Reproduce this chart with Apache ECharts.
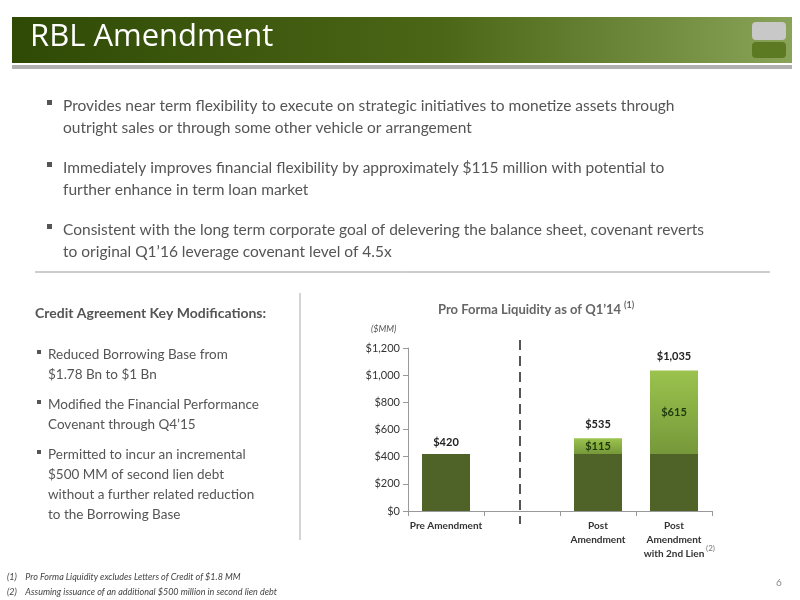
<!DOCTYPE html>
<html><head><meta charset="utf-8">
<script src="https://cdn.jsdelivr.net/npm/echarts@6/dist/echarts.min.js"></script>
<style>html,body{margin:0;padding:0;background:#fff}#c{width:800px;height:600px}</style>
</head><body><div id="c"></div>
<script>
const categories = ['Pre Amendment', '', 'Post\nAmendment', 'Post\nAmendment\nwith 2nd Lien'];
const baseValues = [420, null, 420, 420];
const addValues = [null, null, 115, 615];
const addLabels = ['', '', '$115', '$615'];
const totalLabels = ['$420', '', '$535', '$1,035'];
const yTicks = [0, 200, 400, 600, 800, 1000, 1200];

const F = 'Lato';
const chart = echarts.init(document.getElementById('c'));
const bullets = [
  ['Provides near term flexibility to execute on strategic initiatives to monetize assets through', 'outright sales or through some other vehicle or arrangement', 95],
  ['Immediately improves financial flexibility by approximately $115 million with potential to', 'further enhance in term loan market', 157],
  ['Consistent with the long term corporate goal of delevering the balance sheet, covenant reverts', 'to original Q1’16 leverage covenant level of 4.5x', 219]
];
const left = [
  ['Reduced Borrowing Base from', '$1.78 Bn to $1 Bn', 345],
  ['Modified the Financial Performance', 'Covenant through Q4’15', 395],
  ['Permitted to incur an incremental', '$500 MM of second lien debt', 445],
];
const g = [
  {type:'rect', shape:{x:12,y:17,width:780,height:46}, style:{fill:new echarts.graphic.LinearGradient(0,0,1,0,[{offset:0,color:'#2f4a05'},{offset:0.55,color:'#4b6616'},{offset:1,color:'#89a358'}])}},
  {type:'rect', shape:{x:12,y:65,width:780,height:4}, style:{fill:'#b0b0b0'}},
  {type:'text', x:30, y:22, style:{text:'RBL Amendment', fill:'#fff', font:'31px "Liberation Sans Narrow", "Open Sans"'}},
  {type:'rect', shape:{x:752,y:22,width:34,height:18,r:4}, style:{fill:'#c8c8c8'}},
  {type:'rect', shape:{x:752,y:42,width:34,height:16,r:4}, style:{fill:'#5c7a22'}},
  {type:'line', shape:{x1:35,y1:272,x2:770,y2:272}, style:{stroke:'#999',lineWidth:1}},
  {type:'line', shape:{x1:300,y1:293,x2:300,y2:540}, style:{stroke:'#aaa',lineWidth:1}},
  {type:'text', x:35, y:306, style:{text:'Credit Agreement Key Modifications:', fill:'#555', font:'bold 14px '+F}},
  {type:'text', x:438, y:303, style:{text:'Pro Forma Liquidity as of Q1’14', fill:'#666', font:'bold 13px '+F}},
  {type:'text', x:624, y:301, style:{text:'(1)', fill:'#666', font:'bold 9px '+F}},
  {type:'text', x:371, y:325, style:{text:'($MM)', fill:'#555', font:'italic 9px '+F}},
  {type:'text', x:706, y:544, style:{text:'(2)', fill:'#777', font:'8px '+F}},
  {type:'line', shape:{x1:520,y1:340,x2:520,y2:524}, style:{stroke:'#555',lineWidth:2,lineDash:[10,6]}},
  {type:'text', x:7, y:573, style:{text:'(1)    Pro Forma Liquidity excludes Letters of Credit of $1.8 MM', fill:'#444', font:'italic 9px '+F}},
  {type:'text', x:7, y:588, style:{text:'(2)    Assuming issuance of an additional $500 million in second lien debt', fill:'#444', font:'italic 9px '+F}},
  {type:'text', x:776, y:578, style:{text:'6', fill:'#888', font:'10px '+F}}
];
bullets.forEach(b=>{
  g.push({type:'rect', shape:{x:47,y:b[2]+5,width:5,height:5}, style:{fill:'#555'}});
  g.push({type:'text', x:63, y:b[2], style:{text:b[0]+'\n'+b[1], fill:'#555', font:'15.5px '+F, lineHeight:22}});
});
left.forEach((b,i)=>{
  g.push({type:'rect', shape:{x:37,y:b[2]+5,width:4,height:4}, style:{fill:'#555'}});
  g.push({type:'text', x:48, y:b[2], style:{text:b[0]+'\n'+b[1]+(i==2?'\nwithout a further related reduction\nto the Borrowing Base':''), fill:'#555', font:'13.5px '+F, lineHeight:20}});
});
chart.setOption({
  animation:false,
  graphic:g,
  grid:{left:408, right:88, top:348, bottom:89},
  xAxis:{type:'category', data:categories, axisLine:{lineStyle:{color:'#999'}}, axisTick:{show:true,lineStyle:{color:'#999'}},
    axisLabel:{interval:0, color:'#333', fontFamily:F, fontSize:10, fontWeight:'bold', lineHeight:14}},
  yAxis:{type:'value', min:0, max:1200, interval:200, axisLine:{show:true,lineStyle:{color:'#999'}}, axisTick:{show:true,lineStyle:{color:'#999'}}, splitLine:{show:false},
    axisLabel:{color:'#333', fontFamily:F, fontSize:11, formatter:v=>'$'+v.toLocaleString('en-US')}},
  series:[
    {type:'bar', stack:'s', data:baseValues, barWidth:48, itemStyle:{color:'#4f6228'},
     label:{show:true, position:'top', distance:6, formatter:p=>p.dataIndex===0?totalLabels[0]:'', color:'#222', fontFamily:F, fontWeight:'bold', fontSize:11}},
    {type:'bar', stack:'s', data:addValues, barWidth:48,
     itemStyle:{color:new echarts.graphic.LinearGradient(0,0,0,1,[{offset:0,color:'#9bc34e'},{offset:1,color:'#76983a'}])},
     label:{show:true, position:'inside', formatter:p=>addLabels[p.dataIndex], color:'#1e3a0a', fontFamily:F, fontWeight:'bold', fontSize:11}},
    {type:'bar', stack:'s', data:addValues.map(v=>v==null?null:0), barWidth:48,
     label:{show:true, position:'top', distance:8, formatter:p=>totalLabels[p.dataIndex], color:'#222', fontFamily:F, fontWeight:'bold', fontSize:11}}
  ]
});
</script></body></html>
